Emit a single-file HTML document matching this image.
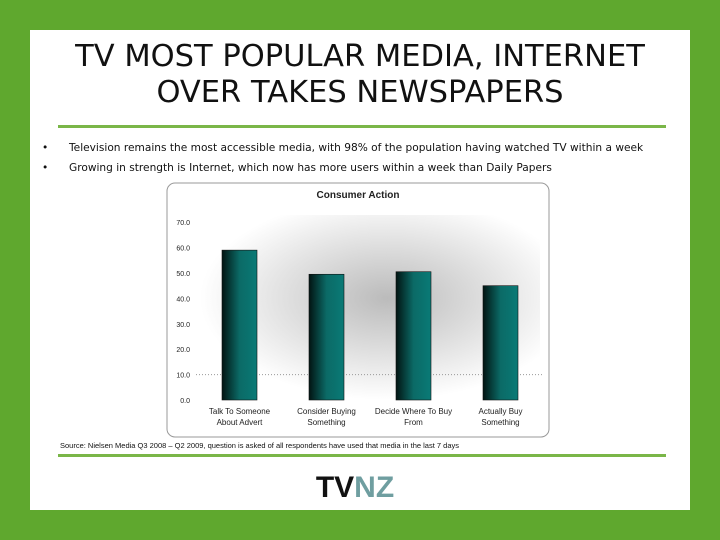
<!DOCTYPE html>
<html><head><meta charset="utf-8"><style>
body{margin:0;width:720px;height:540px;background:#5fa82e;font-family:"DejaVu Sans","Liberation Sans",sans-serif;overflow:hidden}
#slide{position:absolute;left:30px;top:30px;width:660px;height:480px;background:#fff}
.t{position:absolute;left:0;width:720px;text-align:center;font-size:30.5px;line-height:36px;color:#111}
.rule{position:absolute;left:58px;width:608px;height:3px;background:#7ab648}
.b{position:absolute;font-size:10.6px;color:#111}
</style></head><body>
<div id="slide"></div>
<div class="t" style="top:39px">TV MOST POPULAR MEDIA, INTERNET<br>OVER TAKES NEWSPAPERS</div>
<div class="rule" style="top:125px"></div>
<div class="b" style="left:42px;top:142px">•<span style="position:absolute;left:27px;white-space:nowrap">Television remains the most accessible media, with 98% of the population having watched TV within a week</span></div>
<div class="b" style="left:42px;top:162px">•<span style="position:absolute;left:27px;white-space:nowrap">Growing in strength is Internet, which now has more users within a week than Daily Papers</span></div>
<svg style="position:absolute;left:0;top:0" width="720" height="540">
<defs>
<radialGradient id="bg" cx="0.55" cy="0.45" r="0.55"><stop offset="0" stop-color="#bbb"/><stop offset="1" stop-color="#fff"/></radialGradient>
<linearGradient id="bar" x1="0" x2="1"><stop offset="0" stop-color="#021412"/><stop offset="0.5" stop-color="#0b6a66"/><stop offset="1" stop-color="#0a7a76"/></linearGradient>
</defs>
<rect x="167" y="183" width="382" height="254" rx="8" fill="#fff" stroke="#999"/>
<rect x="200" y="215" width="340" height="185" fill="url(#bg)"/>
<text x="358" y="198" font-size="10" font-weight="bold" text-anchor="middle" fill="#222" font-family="Liberation Sans">Consumer Action</text>
<g id="ax"></g><g id="bars"></g>
<text x="60" y="448" font-size="7.5" fill="#111" font-family="Liberation Sans">Source: Nielsen Media Q3 2008 – Q2 2009, question is asked of all respondents have used that media in the last 7 days</text>
<rect x="58" y="454" width="608" height="3" fill="#7ab648"/>
<text x="355" y="497" font-size="30" font-weight="bold" text-anchor="middle" font-family="Liberation Sans"><tspan fill="#111">TV</tspan><tspan fill="#6f9ea0">NZ</tspan></text>
</svg>
<script>
const categories=[["Talk To Someone","About Advert"],["Consider Buying","Something"],["Decide Where To Buy","From"],["Actually Buy","Something"]];
const values=[59,49.5,50.5,45];
const ticks=[0,10,20,30,40,50,60,70];
const NS="http://www.w3.org/2000/svg";
const y=v=>400-v*2.54, x=i=>239.5+i*87;
const ax=document.getElementById('ax'),bg=document.getElementById('bars');
function mk(t,a,p){const e=document.createElementNS(NS,t);for(const k in a)e.setAttribute(k,a[k]);p.appendChild(e);return e;}
ticks.forEach(v=>{const t=mk('text',{x:190,y:y(v)+3,'font-size':7,'text-anchor':'end',fill:'#222','font-family':'Liberation Sans'},ax);t.textContent=v.toFixed(1);

});
const gl=mk('line',{x1:196,x2:544,y1:y(10),y2:y(10),stroke:'#999','stroke-dasharray':'1,2'},ax);


values.forEach((v,i)=>{const r=mk('rect',{x:x(i)-17.5,y:y(v),width:35,height:y(0)-y(v),fill:'url(#bar)',stroke:'#111','stroke-width':0.6},bg);


categories[i].forEach((s,j)=>{const t=mk('text',{x:x(i),y:414+j*11,'font-size':8,'text-anchor':'middle',fill:'#222','font-family':'Liberation Sans'},ax);t.textContent=s;

});});
</script>
</body></html>
